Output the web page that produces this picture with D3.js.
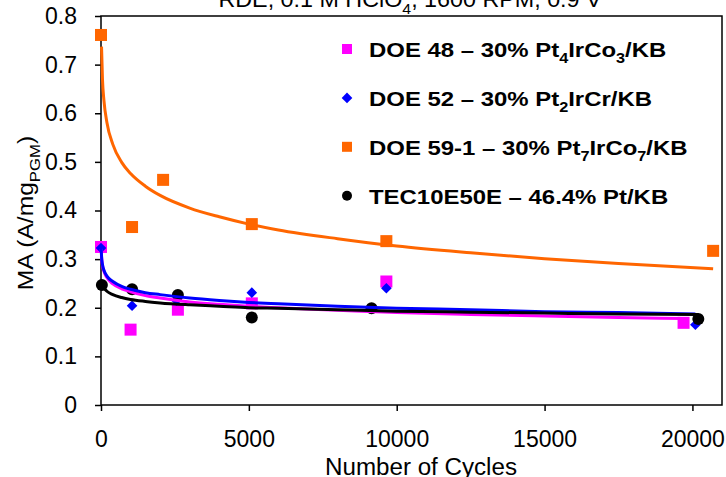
<!DOCTYPE html>
<html>
<head>
<meta charset="utf-8">
<script src="https://cdn.jsdelivr.net/npm/d3@7"></script>
<style>
  body { margin: 0; background: #fff; }
  svg { display: block; font-family: "Liberation Sans", Arial, sans-serif; }
</style>
</head>
<body>
<div id="chart"></div>
<script>
// measured points (cycles, mass activity)
let cyc48 = [0, 1000, 2600, 5100, 9650, 19700]
let ma48 = [0.325, 0.155, 0.196, 0.209, 0.254, 0.169]
let cyc52 = [0, 1050, 2550, 5100, 9650, 20100]
let ma52 = [0.323, 0.204, 0.215, 0.231, 0.240, 0.165]
let cyc59 = [0, 1050, 2100, 5100, 9650, 20700]
let ma59 = [0.761, 0.366, 0.463, 0.372, 0.337, 0.317]
let cycTec = [30, 1050, 2600, 5100, 9150, 20200]
let maTec = [0.247, 0.238, 0.226, 0.180, 0.199, 0.177]

// trend lines
let trend48 = [[8,0.321],[20,0.304],[50,0.287],[100,0.275],[200,0.262],[400,0.249],[700,0.239],[1000,0.233],[1500,0.225],[2000,0.220],[3000,0.212],[4000,0.207],[5000,0.203],[6000,0.200],[8000,0.195],[10000,0.190],[12500,0.186],[15000,0.183],[17500,0.180],[19700,0.178]]
let trend52 = [[6,0.325],[20,0.304],[50,0.289],[100,0.277],[200,0.265],[400,0.254],[700,0.244],[1000,0.238],[1500,0.231],[2000,0.227],[3000,0.220],[4000,0.215],[5000,0.211],[6000,0.208],[8000,0.203],[10000,0.199],[12500,0.196],[15000,0.192],[17500,0.190],[20100,0.187]]
let trend59 = [[18,0.737],[50,0.670],[100,0.626],[200,0.581],[400,0.536],[700,0.499],[1000,0.476],[1500,0.450],[2000,0.431],[3000,0.405],[4000,0.387],[5000,0.372],[6000,0.360],[8000,0.342],[10000,0.327],[12500,0.313],[15000,0.301],[17500,0.291],[20700,0.280]]
let trendTec = [[50,0.248],[100,0.241],[200,0.234],[400,0.227],[700,0.221],[1000,0.217],[1500,0.213],[2000,0.210],[3000,0.206],[4000,0.203],[5000,0.200],[6000,0.199],[8000,0.196],[10000,0.193],[12500,0.191],[15000,0.189],[17500,0.187],[20200,0.186]]

let legendNames = ["DOE 48 – 30% Pt_4IrCo_3/KB", "DOE 52 – 30% Pt_2IrCr/KB", "DOE 59-1 – 30% Pt_7IrCo_7/KB", "TEC10E50E – 46.4% Pt/KB"]
let xTicks = [0, 5000, 10000, 15000, 20000]
let yTicks = [0, 0.1, 0.2, 0.3, 0.4, 0.5, 0.6, 0.7, 0.8]

let W = 726, H = 477
let svg = d3.select("#chart").append("svg")
  .attr("width", W)
  .attr("height", H)

let x = d3.scaleLinear().domain([0, 21000]).range([101, 722])
let y = d3.scaleLinear().domain([0, 0.8]).range([405, 16])

let series = [
  {cyc: cyc48, ma: ma48, trend: trend48, color: "#ff00ff", shape: "square"},
  {cyc: cyc52, ma: ma52, trend: trend52, color: "#0000ff", shape: "diamond"},
  {cyc: cyc59, ma: ma59, trend: trend59, color: "#ff6600", shape: "square"},
  {cyc: cycTec, ma: maTec, trend: trendTec, color: "#000000", shape: "circle"}
]

// frame
svg.append("rect")
  .attr("x", x(0)).attr("y", y(0.8))
  .attr("width", x(21000) - x(0)).attr("height", y(0) - y(0.8))
  .attr("fill", "none").attr("stroke", "#000").attr("stroke-width", 1.5)

svg.append("g")
  .attr("transform", "translate(0," + y(0) + ")")
  .call(d3.axisBottom(x).tickValues(xTicks).tickSize(6).tickPadding(20).tickFormat(d3.format("d")))
  .call(g => g.select(".domain").remove())
  .call(g => g.selectAll("line").attr("stroke-width", 1.5))
  .selectAll("text")
    .style("font-size", "23px")
    .style("font-family", "Liberation Sans, Arial")
    .attr("fill", "#000")

svg.append("g")
  .attr("transform", "translate(" + x(0) + ",0)")
  .call(d3.axisLeft(y).tickValues(yTicks).tickSize(6).tickPadding(18).tickFormat(d => d === 0 ? "0" : d3.format(".1f")(d)))
  .call(g => g.select(".domain").remove())
  .call(g => g.selectAll("line").attr("stroke-width", 1.5))
  .selectAll("text")
    .style("font-size", "23px")
    .style("font-family", "Liberation Sans, Arial")
    .attr("fill", "#000")

function marker(sel, shape, color, s) {
  if (shape === "circle") {
    sel.append("circle").attr("r", s / 2).attr("fill", color)
  } else if (shape === "diamond") {
    sel.append("path").attr("d", d3.symbol(d3.symbolDiamond2, s * s * 0.5)()).attr("fill", color)
  } else {
    sel.append("rect").attr("x", -s / 2).attr("y", -s / 2).attr("width", s).attr("height", s).attr("fill", color)
  }
}

// markers
series.forEach(function(s) {
  s.cyc.forEach(function(c, i) {
    let g = svg.append("g").attr("transform", "translate(" + x(c) + "," + y(s.ma[i]) + ")")
    marker(g, s.shape, s.color, 12)
  })
})

// trend lines on top
let line = d3.line()
  .x(function(d) { return x(d[0]) })
  .y(function(d) { return y(d[1]) })
  .curve(d3.curveMonotoneX)

series.forEach(function(s) {
  svg.append("path")
    .datum(s.trend)
    .attr("d", line)
    .attr("fill", "none")
    .attr("stroke", s.color)
    .attr("stroke-width", 3)
})

// text with _n subscripts
function richText(t, str, size) {
  str.split(/_(\d+|[A-Z]+)/).forEach(function(part, i) {
    if (part === "") return
    if (i % 2 === 1) {
      t.append("tspan").attr("dy", size * 0.3).style("font-size", size * 0.68 + "px").text(part)
    } else {
      t.append("tspan").attr("dy", i > 0 ? -size * 0.3 : 0).text(part)
    }
  })
}

// legend (text a bit wide in the original)
let leg = svg.append("g")
legendNames.forEach(function(name, i) {
  let yy = 49 + i * 48.9
  let g = leg.append("g").attr("transform", "translate(347," + yy + ")")
  marker(g, series[i].shape, series[i].color, series[i].shape === "diamond" ? 12 : 10)
  let t = leg.append("g")
    .attr("transform", "translate(369," + (yy + 8) + ") scale(1.14,1)")
    .append("text")
    .style("font-size", "21px")
    .style("font-weight", "bold")
  richText(t, name, 21)
})

// title, cut off at top
let title = svg.append("g")
  .attr("transform", "translate(410,7) scale(1.06,1)")
  .append("text")
  .attr("text-anchor", "middle")
  .style("font-size", "22px")
richText(title, "RDE, 0.1 M HClO_4, 1600 RPM, 0.9 V", 22)

svg.append("text")
  .attr("x", 421).attr("y", 475)
  .attr("text-anchor", "middle")
  .attr("textLength", 192)
  .attr("lengthAdjust", "spacingAndGlyphs")
  .style("font-size", "23px")
  .text("Number of Cycles")

let yl = svg.append("g")
  .attr("transform", "translate(33,213) rotate(-90) scale(1.12,1)")
  .append("text")
  .attr("text-anchor", "middle")
  .style("font-size", "22px")
richText(yl, "MA (A/mg_PGM)", 22)
</script>
</body>
</html>
